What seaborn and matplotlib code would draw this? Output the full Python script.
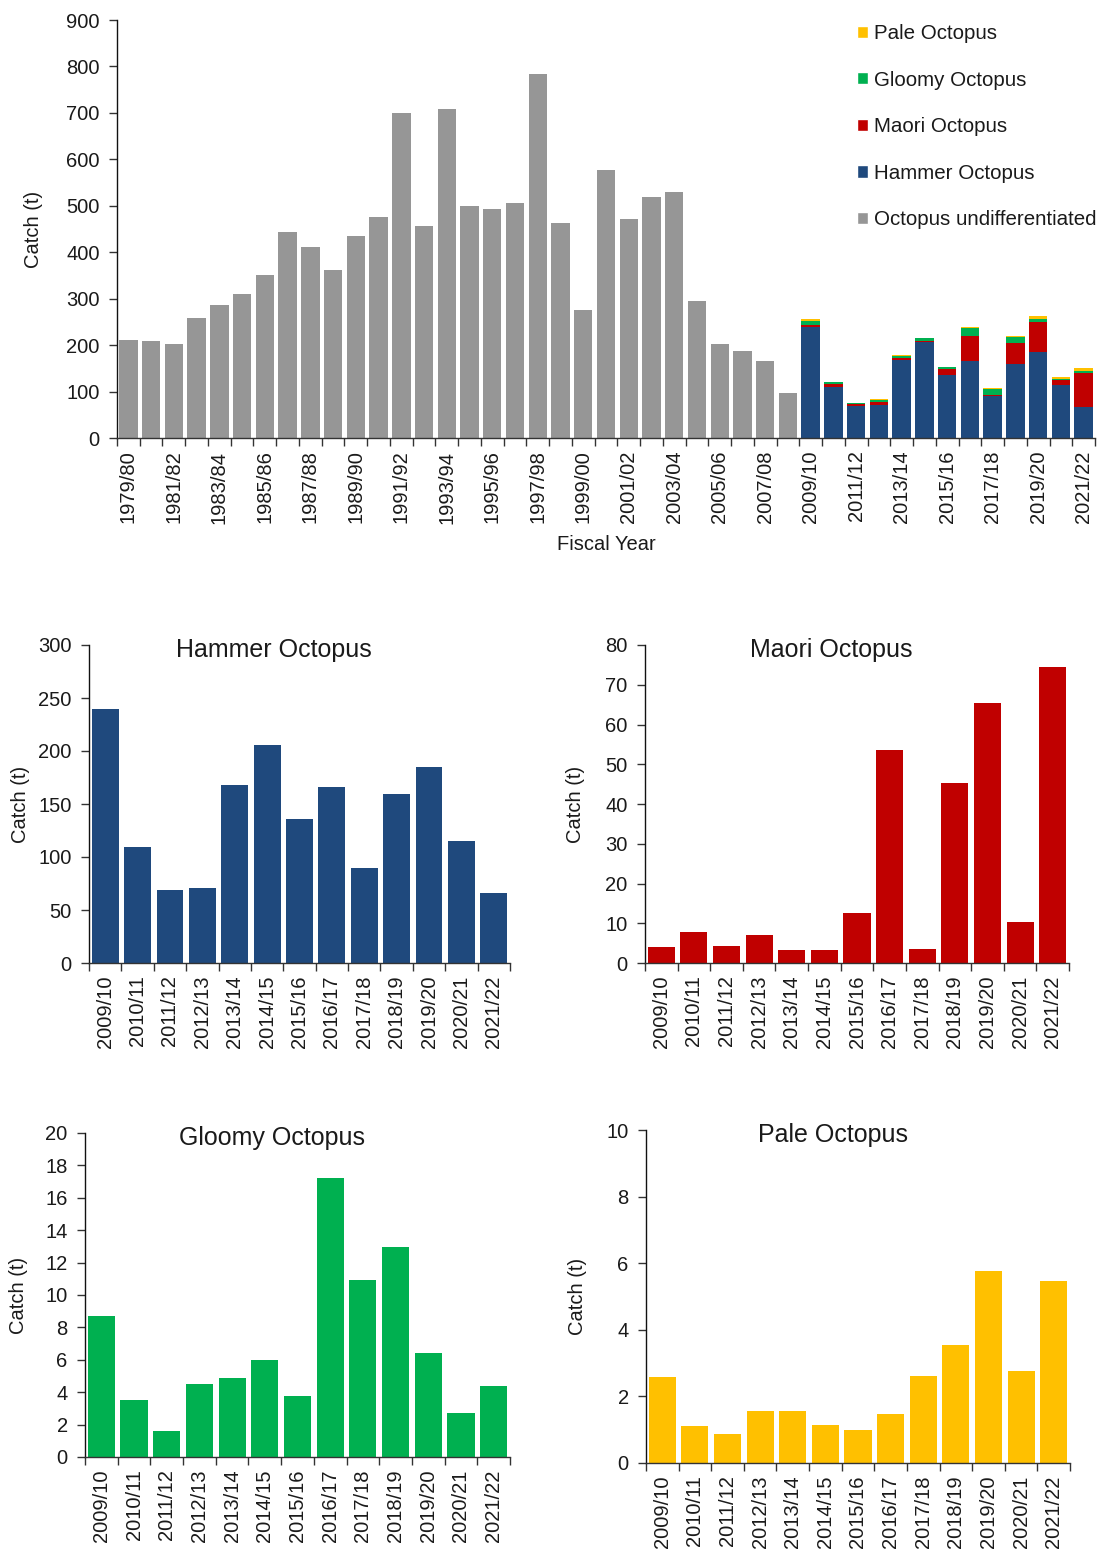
import numpy as np
import pandas as pd
import matplotlib
matplotlib.use("Agg")
import matplotlib.pyplot as plt
import seaborn as sns
from matplotlib.patches import Patch

# ---------------- data ----------------
all_years = ["1979/80", "1980/81", "1981/82", "1982/83", "1983/84", "1984/85", "1985/86",
             "1986/87", "1987/88", "1988/89", "1989/90", "1990/91", "1991/92", "1992/93",
             "1993/94", "1994/95", "1995/96", "1996/97", "1997/98", "1998/99", "1999/00",
             "2000/01", "2001/02", "2002/03", "2003/04", "2004/05", "2005/06", "2006/07",
             "2007/08", "2008/09", "2009/10", "2010/11", "2011/12", "2012/13", "2013/14",
             "2014/15", "2015/16", "2016/17", "2017/18", "2018/19", "2019/20", "2020/21",
             "2021/22"]
undiff_years = all_years[:30]
undiff = [210, 208, 203, 258, 286, 311, 352, 443, 412, 362, 436, 476, 700, 456, 709,
          499, 492, 507, 783, 462, 276, 577, 472, 519, 529, 296, 202, 187, 166, 96]

sp_years = all_years[30:]
hammer = [240, 109, 69, 71, 168, 206, 136, 166, 90, 159, 185, 115, 66]
maori = [3.9, 7.8, 4.4, 7.1, 3.2, 3.2, 12.5, 53.6, 3.6, 45.2, 65.4, 10.2, 74.5]
gloomy = [8.7, 3.5, 1.6, 4.5, 4.9, 6.0, 3.75, 17.2, 10.9, 12.95, 6.4, 2.7, 4.4]
pale = [2.58, 1.11, 0.87, 1.57, 1.57, 1.14, 0.98, 1.47, 2.6, 3.54, 5.78, 2.76, 5.46]

C_GREY = "#969696"
C_HAM = "#1F497D"
C_MAO = "#C00000"
C_GLO = "#00B050"
C_PAL = "#FFC000"

# ---------------- style ----------------
sns.set_style("white")
plt.rcParams["font.family"] = ["Liberation Sans", "DejaVu Sans"]
plt.rcParams["text.color"] = "#1a1a1a"
plt.rcParams["axes.labelcolor"] = "#1a1a1a"
plt.rcParams["xtick.color"] = "#1a1a1a"
plt.rcParams["ytick.color"] = "#1a1a1a"

FS = 14.5
W, H = 1099, 1550
fig = plt.figure(figsize=(W / 100, H / 100), dpi=100)


def px_axes(left, top, right, bottom):
    return fig.add_axes([left / W, 1 - bottom / H, (right - left) / W, (bottom - top) / H])


def style_axis(ax, n, ymax, step, labels_idx, labels):
    ax.set_xlim(-0.5, n - 0.5)
    ax.set_ylim(0, ymax)
    ax.set_yticks(np.arange(0, ymax + step / 2, step))
    ax.set_xticks(labels_idx)
    ax.set_xticklabels(labels, rotation=90, fontsize=FS)
    ax.set_xticks(np.arange(-0.5, n, 1), minor=True)
    ax.tick_params(axis="x", which="major", bottom=True, length=0, pad=9)
    ax.tick_params(axis="x", which="minor", bottom=True, length=6, width=1,
                   direction="out", color="#333333")
    ax.tick_params(axis="y", which="major", left=True, length=6, width=1, direction="out",
                   pad=6.5, labelsize=FS, color="#333333")
    for s in ["top", "right"]:
        ax.spines[s].set_visible(False)
    ax.spines["left"].set_color("#111111")
    ax.spines["bottom"].set_color("#333333")
    ax.spines["left"].set_linewidth(1)
    ax.spines["bottom"].set_linewidth(1)
    ax.set_xlabel("")


# ---------------- top chart ----------------
n_all = len(all_years)
pad_sp = [0.0] * len(undiff_years)
pad_un = [0.0] * len(sp_years)
df = pd.DataFrame({
    "year": all_years,
    "undiff": list(undiff) + pad_un,
    "hammer": pad_sp + list(hammer),
    "maori": pad_sp + list(maori),
    "gloomy": pad_sp + list(gloomy),
    "pale": pad_sp + list(pale),
})
df["l_mao"] = df["hammer"] + df["maori"]
df["l_glo"] = df["l_mao"] + df["gloomy"]
df["l_pal"] = df["l_glo"] + df["pale"]

ax0 = px_axes(117, 20, 1095, 438)
bw = 0.81
for col, c in [("undiff", C_GREY), ("l_pal", C_PAL), ("l_glo", C_GLO),
               ("l_mao", C_MAO), ("hammer", C_HAM)]:
    sns.barplot(data=df, x="year", y=col, order=all_years, color=c, saturation=1,
                width=bw, errorbar=None, ax=ax0, linewidth=0)
style_axis(ax0, n_all, 900, 100, list(range(0, n_all, 2)), all_years[::2])
ax0.set_ylabel("Catch (t)", fontsize=FS)
ax0.yaxis.set_label_coords((43 - 117) / 978, 0.5)
ax0.set_xlabel("Fiscal Year", fontsize=FS)
ax0.xaxis.set_label_coords(0.5, (438 - 535) / 418)

handles = [Patch(facecolor=C_PAL, label="Pale Octopus"),
           Patch(facecolor=C_GLO, label="Gloomy Octopus"),
           Patch(facecolor=C_MAO, label="Maori Octopus"),
           Patch(facecolor=C_HAM, label="Hammer Octopus"),
           Patch(facecolor=C_GREY, label="Octopus undifferentiated")]
fig.legend(handles=handles, loc="upper left", bbox_to_anchor=(857 / W, 1 - 24 / H),
           frameon=False, fontsize=14.8, handlelength=0.55, handleheight=0.55,
           handletextpad=0.3, labelspacing=1.34, borderpad=0, borderaxespad=0)

# ---------------- small charts ----------------
n_sp = len(sp_years)
panels = [
    ((89, 645, 510, 963), hammer, C_HAM, 300, 50, "Hammer Octopus", 30),
    ((645, 645, 1069, 963), maori, C_MAO, 80, 10, "Maori Octopus", 585),
    ((85, 1133, 510, 1457), gloomy, C_GLO, 20, 2, "Gloomy Octopus", 28),
    ((646, 1130, 1070, 1463), pale, C_PAL, 10, 2, "Pale Octopus", 587),
]
for (l, t, r, b), vals, c, ymax, step, title, lab_x in panels:
    ax = px_axes(l, t, r, b)
    sdf = pd.DataFrame({"year": sp_years, "catch": vals})
    sns.barplot(data=sdf, x="year", y="catch", order=sp_years, color=c, saturation=1,
                width=0.83, errorbar=None, ax=ax, linewidth=0)
    style_axis(ax, n_sp, ymax, step, list(range(n_sp)), sp_years)
    ax.set_ylabel("Catch (t)", fontsize=FS)
    ax.yaxis.set_label_coords((lab_x - l) / (r - l), 0.5)
    ax.text(0.44, 1 - 5 / (b - t), title, transform=ax.transAxes, ha="center",
            va="center", fontsize=18, color="#1a1a1a")

fig.savefig("out.png", dpi=100)
